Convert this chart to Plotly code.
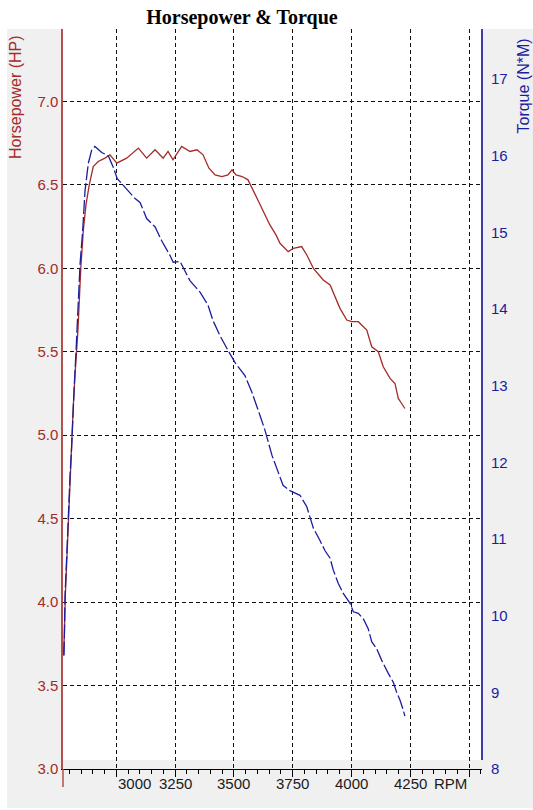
import plotly.graph_objects as go

# ---------------- data ----------------
hp_rpm = [2775, 2779, 2783, 2789, 2796, 2803, 2810, 2817, 2824, 2832,
          2837, 2849, 2860, 2871, 2885, 2902, 2923, 2952, 2973, 3002,
          3044, 3094, 3129, 3165, 3199, 3220, 3241, 3278, 3313, 3343,
          3369, 3394, 3420, 3449, 3475, 3492, 3509, 3535, 3560, 3581,
          3602, 3628, 3653, 3679, 3696, 3731, 3753, 3788, 3810, 3838,
          3880, 3909, 3930, 3951, 3980, 4001, 4029, 4043, 4065, 4086,
          4114, 4135, 4164, 4185, 4199, 4213, 4227]
hp_values = [3.68, 3.80, 4.03, 4.25, 4.51, 4.75, 4.99, 5.17, 5.35, 5.51,
             5.63, 6.00, 6.23, 6.38, 6.50, 6.61, 6.64, 6.66, 6.68, 6.63,
             6.66, 6.72, 6.66, 6.71, 6.66, 6.70, 6.65, 6.73, 6.70, 6.71,
             6.68, 6.60, 6.56, 6.55, 6.56, 6.59, 6.56, 6.55, 6.53, 6.47,
             6.41, 6.34, 6.26, 6.20, 6.15, 6.10, 6.12, 6.13, 6.08, 6.00,
             5.93, 5.90, 5.83, 5.76, 5.69, 5.68, 5.68, 5.66, 5.63, 5.53,
             5.50, 5.41, 5.34, 5.31, 5.22, 5.19, 5.16]

tq_rpm = [2778, 2782, 2789, 2796, 2803, 2810, 2815, 2821, 2829, 2839,
          2846, 2857, 2867, 2881, 2895, 2909, 2938, 2966, 2987, 3004,
          3044, 3080, 3101, 3129, 3165, 3193, 3228, 3242, 3271, 3299,
          3313, 3356, 3390, 3411, 3441, 3475, 3505, 3547, 3577, 3611,
          3632, 3662, 3687, 3709, 3738, 3781, 3810, 3824, 3838, 3866,
          3887, 3909, 3923, 3944, 3965, 3994, 4008, 4029, 4050, 4071,
          4086, 4107, 4128, 4156, 4178, 4192, 4206, 4220, 4227]
tq_values = [9.48, 10.26, 10.76, 11.37, 11.80, 12.19, 12.64, 12.98, 13.46, 14.11,
             14.59, 15.02, 15.54, 15.90, 16.07, 16.12, 16.04, 16.00, 15.85, 15.70,
             15.57, 15.44, 15.39, 15.18, 15.07, 14.89, 14.70, 14.61, 14.62, 14.46,
             14.37, 14.22, 14.05, 13.85, 13.65, 13.46, 13.30, 13.13, 12.91, 12.61,
             12.42, 12.09, 11.89, 11.70, 11.63, 11.57, 11.42, 11.29, 11.14, 10.98,
             10.85, 10.75, 10.59, 10.42, 10.29, 10.16, 10.05, 10.03, 9.96, 9.83,
             9.66, 9.57, 9.42, 9.25, 9.13, 9.00, 8.90, 8.77, 8.69]

x_tick_vals = [3000, 3250, 3500, 3750, 4000, 4250, 4500]
x_tick_text = ["3000", "3250", "3500", "3750", "4000", "4250", "RPM"]
hp_tick_vals = [3.0, 3.5, 4.0, 4.5, 5.0, 5.5, 6.0, 6.5, 7.0]
tq_tick_vals = [8, 9, 10, 11, 12, 13, 14, 15, 16, 17]

# ---------------- styling ----------------
W, H = 533, 810
ML, MR, MT, MB = 63, 51, 29, 41
PW, PH = W - ML - MR, H - MT - MB
X_RANGE = [2773.4, 4554.9]
HP_RANGE = [3.0, 3.0 + PH / 166.9]
TQ_RANGE = [8.0, 8.0 + PH / 76.67]

GRAY = "#f0f0f0"
HP_COLOR = "#a52a2a"
HP_AXIS = "#b5514c"
TQ_COLOR = "#1c1ca0"
TQ_AXIS = "#00008b"
FONT = "Liberation Sans"


def px_to_paper_x(px):
    return (px - ML) / PW


def px_to_paper_y(py):
    return (H - MB - py) / PH


fig = go.Figure()
fig.add_trace(go.Scatter(x=hp_rpm, y=hp_values, mode="lines",
                         line=dict(color=HP_COLOR, width=1.3),
                         yaxis="y", showlegend=False, hoverinfo="skip"))
fig.add_trace(go.Scatter(x=tq_rpm, y=tq_values, mode="lines",
                         line=dict(color=TQ_COLOR, width=1.3, dash="14px,3px"),
                         yaxis="y2", showlegend=False, hoverinfo="skip"))

shapes = [
    # white title band and left/bottom white strips
    dict(type="rect", xref="paper", yref="paper", layer="below",
         x0=px_to_paper_x(-5), x1=px_to_paper_x(W + 5),
         y0=1.0, y1=px_to_paper_y(-5), fillcolor="white", line=dict(width=0)),
    dict(type="rect", xref="paper", yref="paper", layer="below",
         x0=px_to_paper_x(-5), x1=px_to_paper_x(7),
         y0=px_to_paper_y(H + 5), y1=px_to_paper_y(-5), fillcolor="white", line=dict(width=0)),
    dict(type="rect", xref="paper", yref="paper", layer="below",
         x0=px_to_paper_x(-5), x1=px_to_paper_x(W + 5),
         y0=px_to_paper_y(H + 5), y1=px_to_paper_y(808), fillcolor="white", line=dict(width=0)),
    # gray strip at bottom of plot area
    dict(type="rect", xref="x", yref="y", layer="below",
         x0=X_RANGE[0], x1=X_RANGE[1], y0=HP_RANGE[0], y1=HP_RANGE[0] + 9 / 166.9,
         fillcolor=GRAY, line=dict(width=0)),
    # right axis line (stops above x axis)
    dict(type="line", xref="paper", yref="paper", layer="above",
         x0=1, x1=1, y0=px_to_paper_y(760), y1=1, line=dict(color=TQ_AXIS, width=1.5)),
    # left axis line extension below x axis
    dict(type="line", xref="paper", yref="paper", layer="above",
         x0=0, x1=0, y0=0, y1=px_to_paper_y(787), line=dict(color=HP_AXIS, width=1.5)),
]

annotations = []
for v, t in zip(x_tick_vals, x_tick_text):
    anchor = "center"
    if t == "3000":
        anchor = "left"
    if t == "RPM":
        anchor = "right"
    annotations.append(dict(x=v, y=0, xref="x", yref="paper", text=t, showarrow=False,
                            xanchor=anchor, yanchor="top", yshift=-4,
                            font=dict(family=FONT, size=15, color="#1a1a1a")))

annotations.append(dict(x=px_to_paper_x(16), y=px_to_paper_y(33), xref="paper", yref="paper",
                        text="Horsepower (HP)", textangle=-90, showarrow=False,
                        xanchor="center", yanchor="top",
                        font=dict(family=FONT, size=16, color=HP_COLOR)))
annotations.append(dict(x=px_to_paper_x(523), y=px_to_paper_y(37), xref="paper", yref="paper",
                        text="Torque (N*M)", textangle=-90, showarrow=False,
                        xanchor="center", yanchor="top",
                        font=dict(family=FONT, size=16, color=TQ_COLOR)))

fig.update_layout(
    width=W, height=H,
    margin=dict(l=ML, r=MR, t=MT, b=MB, pad=0),
    paper_bgcolor=GRAY, plot_bgcolor="white",
    title=dict(text="<b>Horsepower &amp; Torque</b>", x=242 / W, xref="container", xanchor="center",
               y=1 - 17 / H, yref="container", yanchor="middle",
               font=dict(family="Liberation Serif", size=20, color="black")),
    xaxis=dict(range=X_RANGE, showgrid=True, gridcolor="#111111", griddash="4px,3px", gridwidth=1.2,
               tick0=3000, dtick=250, ticks="outside", ticklen=7, tickwidth=1, tickcolor="black",
               minor=dict(tick0=3000, dtick=50, ticks="outside", ticklen=4, tickwidth=1,
                          tickcolor="black", showgrid=False),
               showticklabels=False, showline=True, linecolor="black", linewidth=1,
               zeroline=False, fixedrange=True),
    yaxis=dict(range=HP_RANGE, tickvals=hp_tick_vals, tickformat=".1f",
               showgrid=True, gridcolor="#111111", griddash="4px,3px", gridwidth=1.2,
               ticks="", showline=True, linecolor=HP_AXIS, linewidth=1.5,
               tickfont=dict(family=FONT, size=15, color=HP_COLOR),
               zeroline=False, fixedrange=True),
    yaxis2=dict(range=TQ_RANGE, tickvals=tq_tick_vals, overlaying="y", side="right",
                showgrid=False, ticks="", showline=False, ticklabelstandoff=8,
                tickfont=dict(family=FONT, size=15, color=TQ_COLOR),
                zeroline=False, fixedrange=True),
    shapes=shapes,
    annotations=annotations,
)

fig.write_html("out.html")
